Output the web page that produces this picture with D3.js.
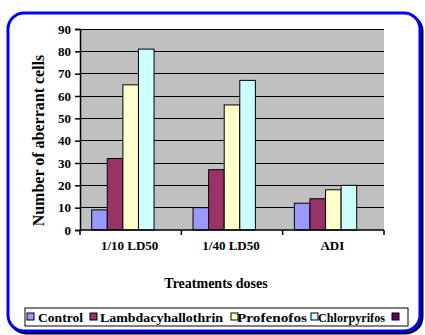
<!DOCTYPE html>
<html>
<head>
<meta charset="utf-8">
<script src="https://cdn.jsdelivr.net/npm/d3@7"></script>
<style>
  html, body { margin: 0; padding: 0; background: #fff; }
</style>
</head>
<body>
<svg id="chart" width="425" height="335"></svg>
<script>
// Treatment groups on the x axis
const categories = ["1/10 LD50", "1/40 LD50", "ADI"];
// Series (the last one has no label and no values)
const seriesNames = ["Control", "Lambdacyhallothrin", "Profenofos", "Chlorpyrifos", ""];
const controlValues = [9, 10, 12];
const lambdaValues = [32, 27, 14];
const profenofosValues = [65, 56, 18];
const chlorpyrifosValues = [81, 67, 20];
const blankValues = [null, null, null];
const seriesValues = [controlValues, lambdaValues, profenofosValues, chlorpyrifosValues, blankValues];
const seriesColors = ["#9999FF", "#993366", "#FFFFCC", "#CCFFFF", "#660066"];
const yTicks = [0, 10, 20, 30, 40, 50, 60, 70, 80, 90];

const FONT = "'Liberation Serif'";
const svg = d3.select("#chart");
const styleText = (sel, size) => sel.style("font-family", FONT).style("font-weight", "bold")
  .style("font-size", size + "px").style("fill", "#000");

// Outer frame: dark shadow plus blue rounded border
svg.append("rect").attr("x", 10).attr("y", 15).attr("width", 412).attr("height", 318)
  .attr("rx", 16).attr("fill", "none").attr("stroke", "#000033").attr("stroke-width", 3);
svg.append("rect").attr("x", 8).attr("y", 13).attr("width", 412).attr("height", 318)
  .attr("rx", 16).attr("fill", "#fff").attr("stroke", "#0000FF").attr("stroke-width", 3);

const plot = { left: 80, right: 384, top: 29, bottom: 230 };

const x = d3.scaleBand().domain(categories).range([plot.left, plot.right]).padding(0);
const xs = d3.scaleBand().domain(d3.range(seriesNames.length))
  .range([0, x.bandwidth()]).paddingInner(0).paddingOuter(0.75);
const y = d3.scaleLinear().domain([0, 90]).range([plot.bottom, plot.top]);

// Plot background
svg.append("rect").attr("x", plot.left).attr("y", plot.top)
  .attr("width", plot.right - plot.left).attr("height", plot.bottom - plot.top)
  .attr("fill", "#C0C0C0");

// Horizontal gridlines
svg.append("g").selectAll("line").data(yTicks.slice(1)).join("line")
  .attr("x1", plot.left).attr("x2", plot.right)
  .attr("y1", d => y(d)).attr("y2", d => y(d))
  .attr("stroke", "#000").attr("stroke-width", 1).attr("shape-rendering", "crispEdges");

// Bars
const groups = svg.append("g").selectAll("g").data(categories).join("g")
  .attr("transform", c => `translate(${x(c)},0)`);
groups.selectAll("rect")
  .data((c, ci) => seriesValues.map((vals, si) => ({ si, v: vals[ci] })).filter(d => d.v != null))
  .join("rect")
  .attr("x", d => xs(d.si))
  .attr("width", xs.bandwidth())
  .attr("y", d => y(d.v))
  .attr("height", d => y(0) - y(d.v))
  .attr("fill", d => seriesColors[d.si])
  .attr("stroke", "#000").attr("stroke-width", 1);

// Y axis
const yAxis = svg.append("g").attr("transform", `translate(${plot.left},0)`)
  .call(d3.axisLeft(y).tickValues(yTicks).tickSize(5).tickPadding(4).tickFormat(d3.format("d")));
styleText(yAxis.selectAll("text"), 13);
yAxis.select(".domain").attr("stroke", "#000").attr("stroke-width", 1.5);
yAxis.selectAll(".tick line").attr("stroke", "#000").attr("stroke-width", 1.5);

// X axis with ticks on category boundaries
const xAxis = svg.append("g").attr("transform", `translate(0,${plot.bottom})`);
xAxis.append("line").attr("x1", plot.left).attr("x2", plot.right)
  .attr("stroke", "#000").attr("stroke-width", 1.5);
const boundaries = categories.map(c => x(c)).concat([plot.right]);
xAxis.selectAll("line.tk").data(boundaries).join("line").attr("class", "tk")
  .attr("x1", d => d).attr("x2", d => d).attr("y1", 0).attr("y2", 5)
  .attr("stroke", "#000").attr("stroke-width", 1.5);
styleText(xAxis.selectAll("text").data(categories).join("text")
  .attr("x", c => x(c) + x.bandwidth() / 2 - 1).attr("y", 20)
  .attr("text-anchor", "middle").text(c => c), 13);

// Axis titles
styleText(svg.append("text").attr("x", 216).attr("y", 288).attr("text-anchor", "middle")
  .text("Treatments doses"), 14);
styleText(svg.append("text").attr("transform", `translate(44,${(plot.top + plot.bottom) / 2 + 11}) rotate(-90)`)
  .attr("text-anchor", "middle").text("Number of aberrant cells"), 16);

// Legend box with one marker + label per series
const legend = svg.append("g");
legend.append("rect").attr("x", 25).attr("y", 308).attr("width", 383).attr("height", 18)
  .attr("fill", "#fff").attr("stroke", "#000").attr("stroke-width", 1);
const markerX = [27, 90, 231, 311, 392];
const labelX = [38, 100, 237, 318, 0];
const labelW = [45, 123, 70, 67, 0];
const items = legend.selectAll("g").data(seriesNames).join("g");
items.append("rect").attr("x", (d, i) => markerX[i]).attr("y", 313).attr("width", 7).attr("height", 7)
  .attr("fill", (d, i) => seriesColors[i]).attr("stroke", "#000").attr("stroke-width", 1);
styleText(items.filter(d => d !== "").append("text")
  .attr("x", (d, i) => labelX[i]).attr("y", 322)
  .attr("textLength", (d, i) => labelW[i]).attr("lengthAdjust", "spacingAndGlyphs")
  .text(d => d), 13.5);
</script>
</body>
</html>
